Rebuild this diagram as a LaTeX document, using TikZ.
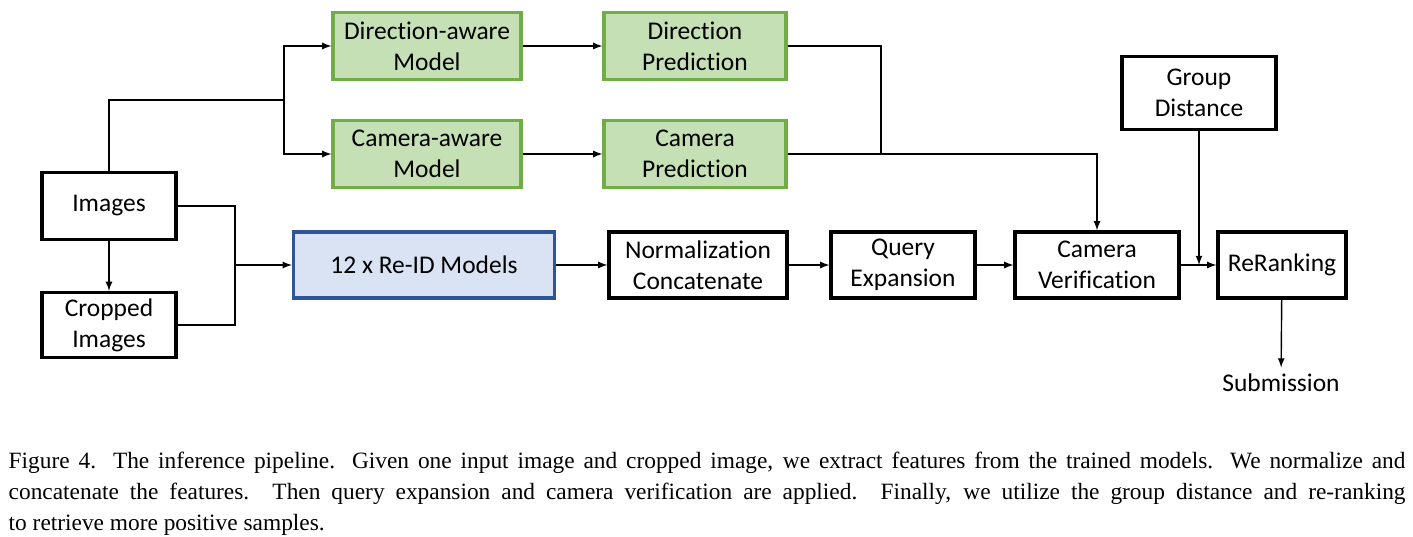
\documentclass[tikz,border=0pt]{standalone}
\usepackage{fontspec}
\setmainfont{Carlito}[Ligatures=NoCommon]
\newfontfamily\capfont{Liberation Serif}
\definecolor{grnfill}{RGB}{197,224,180}
\definecolor{grnline}{RGB}{112,173,71}
\definecolor{blufill}{RGB}{218,227,243}
\definecolor{bluline}{RGB}{47,85,151}
\begin{document}
\begin{tikzpicture}[x=0.02cm,y=-0.02cm,
    box/.style={draw=black,line width=1.9pt,align=center,inner sep=0pt,
        minimum height=1.34cm,font=\fontsize{14.5}{17.6}\selectfont},
    greenbox/.style={box,draw=grnline,fill=grnfill},
    bluebox/.style={box,draw=bluline,fill=blufill},
    every path/.style={line width=0.8pt}]
    \useasboundingbox (0,0) rectangle (1413,537);
    %% upper branch
    \node[greenbox,minimum width=3.76cm] (dirmodel) at (427,46) {Direction-aware\\Model};
    \node[greenbox,minimum width=3.76cm] (cammodel) at (427,154) {Camera-aware\\Model};
    \node[greenbox,minimum width=3.64cm] (dirpred) at (695,46) {Direction\\Prediction};
    \node[greenbox,minimum width=3.64cm] (campred) at (695,154) {Camera\\Prediction};
    %% inputs
    \node[box,minimum width=2.68cm] (images) at (109,206) {Images};
    \node[box,minimum width=2.68cm,minimum height=1.3cm] (cropped) at (109,325) {Cropped\\Images};
    %% main line
    \node[bluebox,minimum width=5.22cm,minimum height=1.32cm] (reid) at (424,265) {12 x Re-ID Models};
    \node[box,minimum width=3.56cm,minimum height=1.32cm] (norm) at (698,265) {Normalization\\Concatenate};
    \node[box,minimum width=2.88cm,minimum height=1.32cm] (query) at (903,265) {Query\\Expansion};
    \node[box,minimum width=3.28cm,minimum height=1.32cm] (camver) at (1097,265) {Camera\\Verification};
    \node[box,minimum width=2.56cm,minimum height=1.32cm] (rerank) at (1282,265) {ReRanking};
    \node[box,minimum width=3.08cm,minimum height=1.46cm] (group) at (1199,93) {Group\\Distance};
    \node[font=\fontsize{14.5}{17.6}\selectfont] (submit) at (1281,383) {Submission};
    %% connectors
    \coordinate (split) at (284,100);
    \coordinate (join) at (235,265);
    \coordinate (dirjoin) at (881,154);
    \draw (images.north) |- (split);
    \draw[-latex] (split) |- (dirmodel.west);
    \draw[-latex] (split) |- (cammodel.west);
    \draw[-latex] (dirmodel) -- (dirpred);
    \draw[-latex] (cammodel) -- (campred);
    \draw (dirpred.east) -| (dirjoin);
    \draw[-latex] (campred.east) -| (camver.north);
    \draw[-latex] (images) -- (cropped);
    \draw (images.east) -| (join);
    \draw (cropped.east) -| (join);
    \draw[-latex] (join) -- (reid.west);
    \draw[-latex] (reid) -- (norm);
    \draw[-latex] (norm) -- (query);
    \draw[-latex] (query) -- (camver);
    \draw[-latex] (camver) -- (rerank);
    \draw[-latex] (group) -- (group |- rerank.west);
    \draw[-latex] (rerank) -- (submit);
    %% caption
    \node[anchor=north west,text width=27.94cm,align=justify,inner sep=0pt,
        font=\capfont\fontsize{13.3}{17.6}\selectfont] (caption) at (8,451)
        {Figure 4. The inference pipeline. Given one input image and cropped image, we extract features from the trained models. We normalize and\linebreak
        concatenate the features. Then query expansion and camera verification are applied. Finally, we utilize the group distance and re-ranking\linebreak
        to retrieve more positive samples.};
\end{tikzpicture}
\end{document}
